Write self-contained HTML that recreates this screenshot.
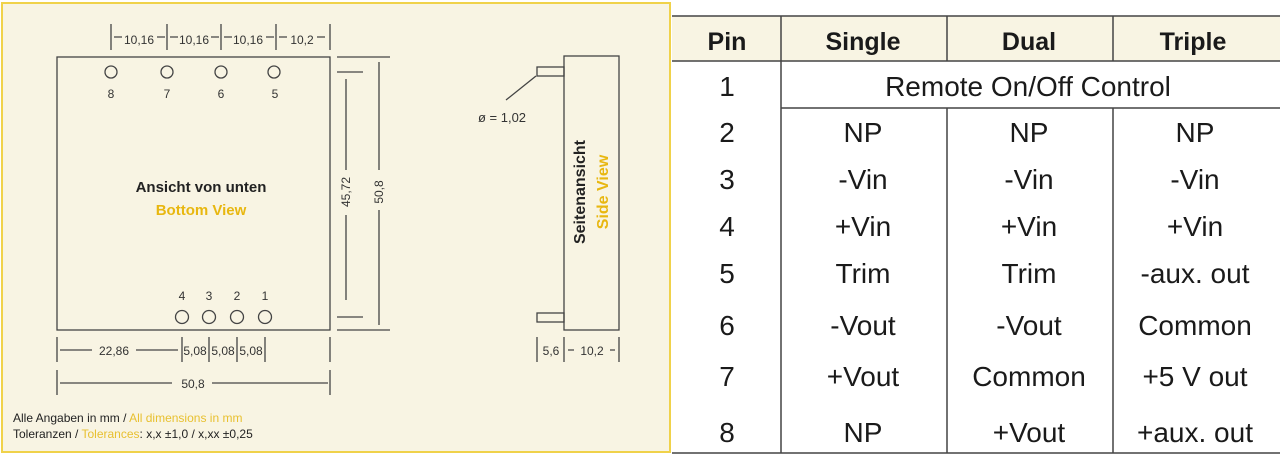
<!DOCTYPE html>
<html><head><meta charset="utf-8"><style>
html,body{margin:0;padding:0;background:#fff;width:1280px;height:458px;overflow:hidden}
svg{display:block}
.n{font-family:"Liberation Sans",sans-serif}
</style></head><body>
<svg width="1280" height="458" viewBox="0 0 1280 458" xmlns="http://www.w3.org/2000/svg">
<rect x="2" y="3" width="668" height="449" fill="#f8f4e3" stroke="#f0d24a" stroke-width="2"/>
<g stroke="#444" stroke-width="1.3" fill="none">
<rect x="57" y="57" width="273" height="273"/>
<circle cx="111" cy="72" r="6"/><circle cx="167" cy="72" r="6"/><circle cx="221" cy="72" r="6"/><circle cx="274" cy="72" r="6"/>
<circle cx="182" cy="317" r="6.5"/><circle cx="209" cy="317" r="6.5"/><circle cx="237" cy="317" r="6.5"/><circle cx="265" cy="317" r="6.5"/>
<path d="M111 24V50M167 24V50M221 24V50M276 24V50M330 24V50"/>
<path d="M114 37h8M157 37h8M170 37h8M211 37h8M224 37h8M266 37h8M279 37h8M317 37h8"/>
<path d="M337 57H390M337 72H363M337 317H363M337 330H390M346 79V170M346 215V300M379 62V170M379 210V325"/>
<path d="M57 337V362M182 337V362M209 337V362M237 337V362M265 337V362M330 337V362M57 370V395M330 370V395"/>
<path d="M60 350H92M136 350H178M60 383H172M212 383H328"/>
<rect x="564" y="56" width="55" height="274"/>
<rect x="537" y="67" width="27" height="9"/><rect x="537" y="313" width="27" height="9"/>
<path d="M536 76L506 100M537 337V362M564 337V362M619 337V362M568 350h6M610 350h5"/>
</g>
<g class="n" font-size="12" fill="#333" text-anchor="middle">
<text x="139" y="44">10,16</text><text x="194" y="44">10,16</text><text x="248" y="44">10,16</text><text x="302" y="44">10,2</text>
<text x="111" y="98">8</text><text x="167" y="98">7</text><text x="221" y="98">6</text><text x="275" y="98">5</text>
<text x="182" y="300">4</text><text x="209" y="300">3</text><text x="237" y="300">2</text><text x="265" y="300">1</text>
<text x="114" y="355">22,86</text><text x="195" y="355">5,08</text><text x="223" y="355">5,08</text><text x="251" y="355">5,08</text>
<text x="193" y="388">50,8</text>
<text x="551" y="355">5,6</text><text x="592" y="355">10,2</text>
<text x="502" y="122" font-size="13">ø = 1,02</text>
<text transform="translate(350 192) rotate(-90)">45,72</text>
<text transform="translate(383 192) rotate(-90)">50,8</text>
</g>
<g font-family="Liberation Sans,sans-serif" font-weight="bold" font-size="15" text-anchor="middle">
<text x="201" y="192" fill="#222">Ansicht von unten</text>
<text x="201" y="215" fill="#e8b710">Bottom View</text>
<text transform="translate(585 192) rotate(-90)" fill="#222" font-size="16">Seitenansicht</text>
<text transform="translate(608 192) rotate(-90)" fill="#e8b710" font-size="16">Side View</text>
</g>
<g class="n" font-size="12" fill="#222">
<text x="13" y="422">Alle Angaben in mm / <tspan fill="#e8c030">All dimensions in mm</tspan></text>
<text x="13" y="438">Toleranzen / <tspan fill="#e8c030">Tolerances</tspan>: x,x ±1,0 / x,xx ±0,25</text>
</g>
<rect x="672" y="16" width="608" height="45" fill="#f8f4e3"/>
<g stroke="#444" stroke-width="1.5">
<path d="M672 16H1280M672 61H1280M781 108H1280M672 453H1280M781 16V453M947 16V61M1113 16V61M947 108V453M1113 108V453"/>
</g>
<g class="n" font-size="28" fill="#1a1a1a" text-anchor="middle">
<g font-weight="bold" font-size="25"><text x="727" y="50">Pin</text><text x="863" y="50">Single</text><text x="1029" y="50">Dual</text><text x="1193" y="50">Triple</text></g>
<text x="727" y="96">1</text><text x="1028" y="96">Remote On/Off Control</text>
<text x="727" y="142">2</text><text x="863" y="142">NP</text><text x="1029" y="142">NP</text><text x="1195" y="142">NP</text>
<text x="727" y="189">3</text><text x="863" y="189">-Vin</text><text x="1029" y="189">-Vin</text><text x="1195" y="189">-Vin</text>
<text x="727" y="236">4</text><text x="863" y="236">+Vin</text><text x="1029" y="236">+Vin</text><text x="1195" y="236">+Vin</text>
<text x="727" y="283">5</text><text x="863" y="283">Trim</text><text x="1029" y="283">Trim</text><text x="1195" y="283">-aux. out</text>
<text x="727" y="335">6</text><text x="863" y="335">-Vout</text><text x="1029" y="335">-Vout</text><text x="1195" y="335">Common</text>
<text x="727" y="386">7</text><text x="863" y="386">+Vout</text><text x="1029" y="386">Common</text><text x="1195" y="386">+5 V out</text>
<text x="727" y="442">8</text><text x="863" y="442">NP</text><text x="1029" y="442">+Vout</text><text x="1195" y="442">+aux. out</text>
</g>
</svg>
</body></html>
